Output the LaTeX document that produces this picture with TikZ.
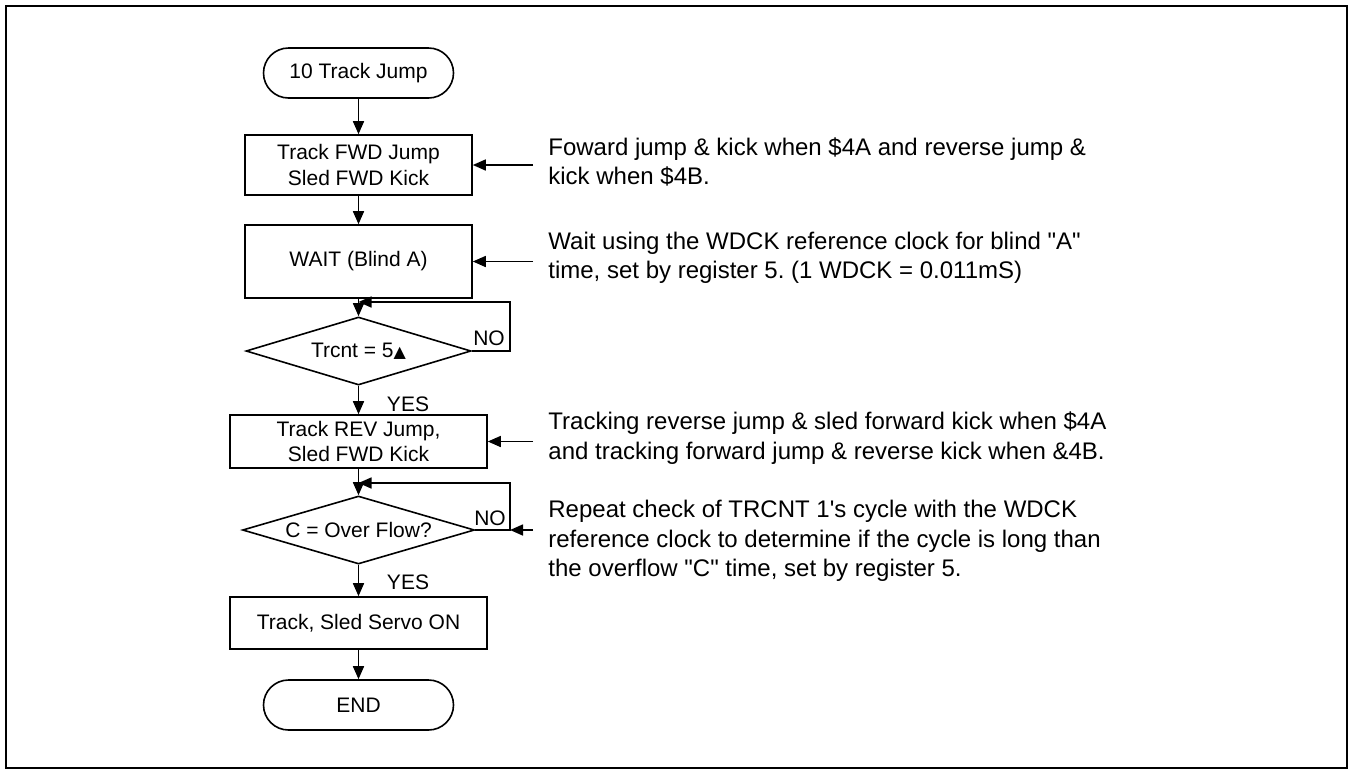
\documentclass[tikz,border=0pt]{standalone}
\usepackage{fontspec}
\setmainfont{Liberation Sans}
\newfontfamily\symfont{DejaVu Sans}
\usetikzlibrary{shapes.geometric,arrows.meta}

\newcommand\boxfont{\fontsize{10.5}{12.75}\selectfont}
\newcommand\notefont{\fontsize{12}{14.7}\selectfont}

\tikzset{
	stepbox/.style={draw,line width=0.8pt,inner sep=0pt,align=center,font=\boxfont},
	term/.style={draw,line width=0.8pt,rounded corners=12.5pt,minimum width=95pt,minimum height=25pt,inner sep=0pt,font=\boxfont},
	test/.style={draw,diamond,aspect=3.3,line width=0.8pt,inner sep=0pt,font=\boxfont},
	note/.style={anchor=west,align=left,inner xsep=7.5pt,inner ysep=0pt,font=\notefont},
	flow/.style={line width=0.8pt,-{Triangle[length=6.5pt,width=5.5pt]}},
	answer/.style={inner sep=0pt,font=\boxfont},
}

\begin{document}
\begin{tikzpicture}[x=0.5pt,y=-0.5pt]
				\useasboundingbox (0,0) rectangle (1353,772);
				\draw [line width=1.2pt] (6,6) rectangle (1347,768);

				% flow chart
				\node [term] (start) at (358.5,73) {10 Track Jump};
				\node [stepbox,minimum width=113.5pt,minimum height=30pt] (fwd) at (358.5,165) {Track FWD Jump\\Sled FWD Kick};
				\node [stepbox,minimum width=113.5pt,minimum height=36.5pt] (wait) at (358.5,261.5) {WAIT (Blind A)};
				\node [test,minimum width=112.5pt,minimum height=34pt] (trcnt) at (358.5,351) {Trcnt = 5{\symfont\footnotesize ▲}};
				\node [stepbox,minimum width=128.5pt,minimum height=26.5pt] (rev) at (358.5,441.5) {Track REV Jump,\\Sled FWD Kick};
				\node [test,minimum width=116pt,minimum height=34pt] (ovf) at (358.5,530) {C = Over Flow?};
				\node [stepbox,minimum width=128.5pt,minimum height=26pt] (servo) at (358.5,623) {Track, Sled Servo ON};
				\node [term] (end) at (358.5,705) {END};

				\node [answer] (no1) at (489,338) {NO};
				\node [answer] (yes1) at (408,404) {YES};
				\node [answer] (no2) at (490,518) {NO};
				\node [answer] (yes2) at (408,582) {YES};

				\coordinate (loopa) at (510,302);
				\coordinate (joina) at (358.5,302);
				\coordinate (loopb) at (510,483);
				\coordinate (joinb) at (358.5,483);

				\draw [flow] (start) -- (fwd);
				\draw [flow] (fwd) -- (wait);
				\draw [flow] (wait) -- (trcnt.north);
				\draw [flow] (trcnt.east) -| (loopa) -- (joina);
				\draw [flow] (trcnt.south) -- (rev.north);
				\draw [flow] (rev) -- (ovf.north);
				\draw [flow] (ovf.east) -| (loopb) -- (joinb);
				\draw [flow] (ovf.south) -- (servo.north);
				\draw [flow] (servo) -- (end);

				% notes
				\node [note] (n1) at (533,162) {Foward jump \& kick when \$4A and reverse jump \&\\kick when \$4B.};
				\node [note] (n2) at (533,257.5) {Wait using the WDCK reference clock for blind \textquotedbl A\textquotedbl\\time, set by register 5.\ (1 WDCK = 0.011mS)};
				\node [note] (n3) at (533,438) {Tracking reverse jump \& sled forward kick when \$4A\\and tracking forward jump \& reverse kick when \&4B.};
				\node [note] (n4) at (533,541) {Repeat check of TRCNT 1\textquotesingle s cycle with the WDCK\\reference clock to determine if the cycle is long than\\the overflow \textquotedbl C\textquotedbl{} time, set by register 5.};

				\draw [flow] (n1.west |- fwd.east) -- (fwd.east);
				\draw [flow] (n2.west |- wait.east) -- (wait.east);
				\draw [flow] (n3.west |- rev.east) -- (rev.east);
				\draw [flow] (n4.west |- ovf.east) -- (loopb |- ovf.east);
			\end{tikzpicture}
\end{document}
